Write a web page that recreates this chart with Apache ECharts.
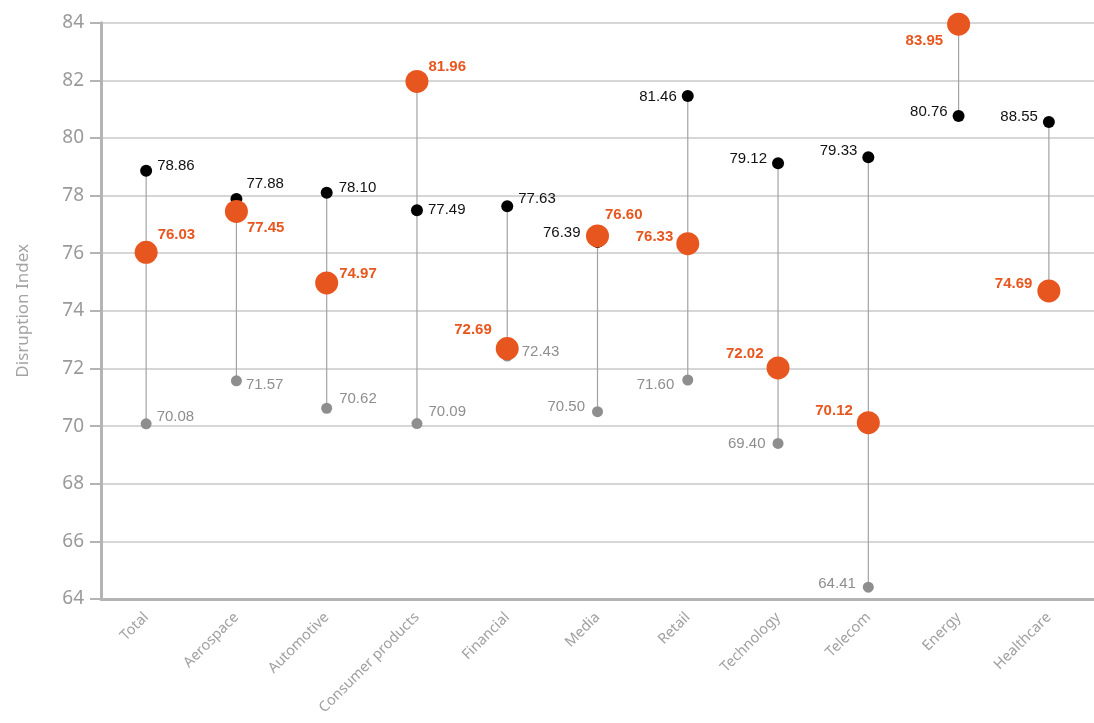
<!DOCTYPE html>
<html>
<head>
<meta charset="utf-8">
<script src="https://cdn.jsdelivr.net/npm/echarts@6/dist/echarts.min.js"></script>
<style>
  html, body { margin: 0; padding: 0; background: #fff; }
  #chart { width: 1094px; height: 723px; }
</style>
</head>
<body>
<div id="chart"></div>
<script>
const categories = ["Total", "Aerospace", "Automotive", "Consumer products", "Financial",
  "Media", "Retail", "Technology", "Telecom", "Energy", "Healthcare"];

// upper black dots, orange highlight dots, lower grey dots
const blackValues  = [78.86, 77.88, 78.10, 77.49, 77.63, 76.39, 81.46, 79.12, 79.33, 80.76, 80.55];
const blackText    = ["78.86", "77.88", "78.10", "77.49", "77.63", "76.39", "81.46", "79.12", "79.33", "80.76", "88.55"];
const orangeValues = [76.03, 77.45, 74.97, 81.96, 72.69, 76.60, 76.33, 72.02, 70.12, 83.95, 74.69];
const greyValues   = [70.08, 71.57, 70.62, 70.09, 72.43, 70.50, 71.60, 69.40, 64.41, null, null];

const yTicks = { min: 64, max: 84, step: 2 };

// label placement per point
const blackSide   = ["right", "right", "right", "right", "right", "left", "left", "left", "left", "left", "left"];
const blackShift  = [[0, -5], [-1, -15], [1, -5], [0, 0], [0, -7], [-6, -9], [0, 1], [0, -4], [0, -6], [0, -4], [0, -5]];
const orangeSide  = ["right", "right", "right", "right", "left", "right", "left", "left", "left", "left", "left"];
const orangeShift = [[-5, -17], [-6, 16], [-4, -9], [-5, -15], [1, -19], [-9, -21], [2, -7], [2, -14], [1, -12], [1, 17], [0, -7]];
const greySide    = ["right", "right", "right", "right", "right", "left", "left", "left", "left", "left", "left"];
const greyShift   = [[0, -7], [-1, 4], [2, -9], [1, -12], [4, -4], [-2, -5], [-3, 5], [-2, 0], [-2, -3], [0, 0], [0, 0]];

const ORANGE = "#e8561f";
const GREY = "#8e8e8e";
const AXIS = "#b4b4b4";

// stem from lowest to highest point of each category
const stems = categories.map((c, i) => {
  const vals = [blackValues[i], orangeValues[i], greyValues[i]].filter(v => v != null);
  return [i, Math.min(...vals), Math.max(...vals)];
});

function points(values, side, shift, text) {
  return values.map((v, i) => {
    if (v == null) return null;
    return {
      value: v,
      label: {
        position: side[i],
        offset: shift[i],
        formatter: text ? text[i] : v.toFixed(2)
      }
    };
  });
}

const chart = echarts.init(document.getElementById("chart"), null, { renderer: "canvas" });

const labelFont = { fontFamily: "Liberation Sans", fontSize: 15 };

chart.setOption({
  animation: false,
  grid: { left: 101, top: 22.7, width: 996, bottom: 124 },
  xAxis: {
    type: "category",
    data: categories,
    boundaryGap: true,
    axisLine: { lineStyle: { color: AXIS, width: 3 } },
    axisTick: { alignWithLabel: true, length: 10, lineStyle: { color: AXIS, width: 2 } },
    axisLabel: {
      rotate: 45, margin: 16, interval: 0,
      color: "#a0a0a0", fontFamily: "Noto Sans", fontSize: 14.5
    },
    splitLine: { show: false }
  },
  yAxis: {
    type: "value",
    min: yTicks.min, max: yTicks.max, interval: yTicks.step,
    name: "Disruption Index",
    nameLocation: "middle",
    nameGap: 69,
    nameTextStyle: { color: "#a3a3a3", fontFamily: "Noto Sans", fontSize: 17 },
    axisLine: { show: true, lineStyle: { color: AXIS, width: 3 } },
    axisTick: { show: true, length: 11, lineStyle: { color: AXIS, width: 2 } },
    axisLabel: { margin: 17, color: "#9a9a9a", fontFamily: "Noto Sans", fontSize: 19 },
    splitLine: { lineStyle: { color: "#c9c9c9", width: 1.5 } }
  },
  series: [
    {
      type: "custom",
      data: stems,
      encode: { x: 0, y: [1, 2] },
      z: 1,
      renderItem: (params, api) => {
        const lo = api.coord([api.value(0), api.value(1)]);
        const hi = api.coord([api.value(0), api.value(2)]);
        return {
          type: "line",
          shape: { x1: lo[0], y1: lo[1], x2: hi[0], y2: hi[1] },
          style: { stroke: "#a3a3a3", lineWidth: 1.2 }
        };
      }
    },
    {
      name: "low",
      type: "scatter",
      z: 2,
      symbolSize: 11,
      itemStyle: { color: GREY, opacity: 1 },
      data: points(greyValues, greySide, greyShift),
      label: { show: true, color: GREY, ...labelFont }
    },
    {
      name: "high",
      type: "scatter",
      z: 3,
      symbolSize: 12,
      itemStyle: { color: "#000", opacity: 1 },
      data: points(blackValues, blackSide, blackShift, blackText),
      label: { show: true, color: "#111", ...labelFont }
    },
    {
      name: "focus",
      type: "scatter",
      z: 4,
      symbolSize: 23,
      itemStyle: { color: ORANGE, opacity: 1 },
      data: points(orangeValues, orangeSide, orangeShift),
      label: { show: true, color: ORANGE, fontWeight: "bold", ...labelFont }
    }
  ]
});
</script>
</body>
</html>
